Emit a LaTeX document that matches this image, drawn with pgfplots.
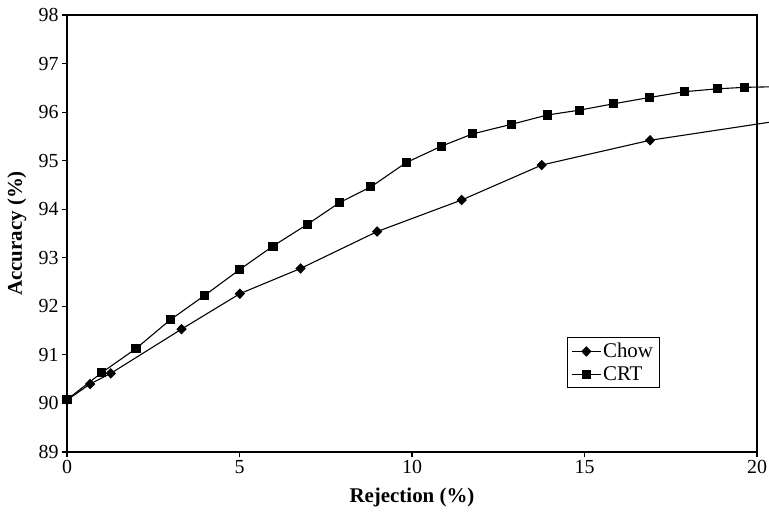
\documentclass[border=0pt]{standalone}
\usepackage{pgfplots}
\pgfplotsset{compat=1.18}
\usepackage{fontspec}
\setmainfont{Liberation Serif}
\usetikzlibrary{calc}
\begin{document}
\begin{tikzpicture}
\begin{axis}[
  scale only axis,
  width=690bp, height=437bp,
  xmin=0, xmax=20, ymin=89, ymax=98,
  xtick={0,5,10,15,20}, ytick={89,90,...,98},
  xtick pos=bottom, ytick pos=left,
  tick align=outside, major tick length=5bp,
  axis line style={line width=1.2pt},
  tick style={line width=1.2pt, black},
  /pgf/number format/assume math mode=true,
  tick label style={font=\fontsize{20}{24}\selectfont},
  clip=false,
  xlabel={\textbf{Rejection (\%)}},
  ylabel={\textbf{Accuracy (\%)}},
  label style={font=\fontsize{21}{25}\selectfont},
  xlabel style={at={(axis description cs:0.5,-0.103)}, anchor=center},
  ylabel style={at={(axis description cs:-0.0725,0.5)}, anchor=center},
  legend style={at={(axis description cs:0.725,0.263)}, anchor=north west,
    draw=black, line width=0.8pt, font=\fontsize{21}{25}\selectfont,
    inner xsep=4pt, inner ysep=4pt, row sep=3pt, legend cell align=left},
  legend image code/.code={%
    \draw[mark repeat=2,mark phase=2,#1] plot coordinates {(0cm,0cm) (0.5cm,0cm) (1.0cm,0cm)};},
]
\addplot[black, line width=1.1pt, mark=diamond*, mark size=4.5pt,
  mark options={xscale=1.3}] coordinates {
(0,90.07) (0.67,90.40) (1.27,90.62) (3.32,91.53) (5.01,92.26) (6.77,92.78)
(8.99,93.54) (11.44,94.19) (13.76,94.91) (16.9,95.42)};
\addlegendentry{Chow}
\addplot[black, line width=1.1pt, mark=square*, mark size=4pt] coordinates {
(0,90.08) (1.0,90.63) (2.0,91.13) (2.99,91.72) (3.98,92.22) (5.01,92.76)
(5.97,93.24) (6.97,93.69) (7.91,94.14) (8.81,94.46) (9.83,94.96) (10.86,95.30)
(11.75,95.55) (12.89,95.75) (13.92,95.94) (14.85,96.04) (15.83,96.17)
(16.88,96.30) (17.89,96.42) (18.86,96.48) (19.63,96.51)};
\addlegendentry{CRT}
\addplot[black, line width=1.1pt, forget plot] coordinates {(16.9,95.42) (20.35,95.79)};
\addplot[black, line width=1.1pt, forget plot] coordinates {(19.63,96.51) (20.35,96.52)};
\end{axis}
\pgfresetboundingbox
\path ($(current axis.south west)+(-67bp,-68bp)$) rectangle ($(current axis.north east)+(12bp,15bp)$);
\end{tikzpicture}
\end{document}
